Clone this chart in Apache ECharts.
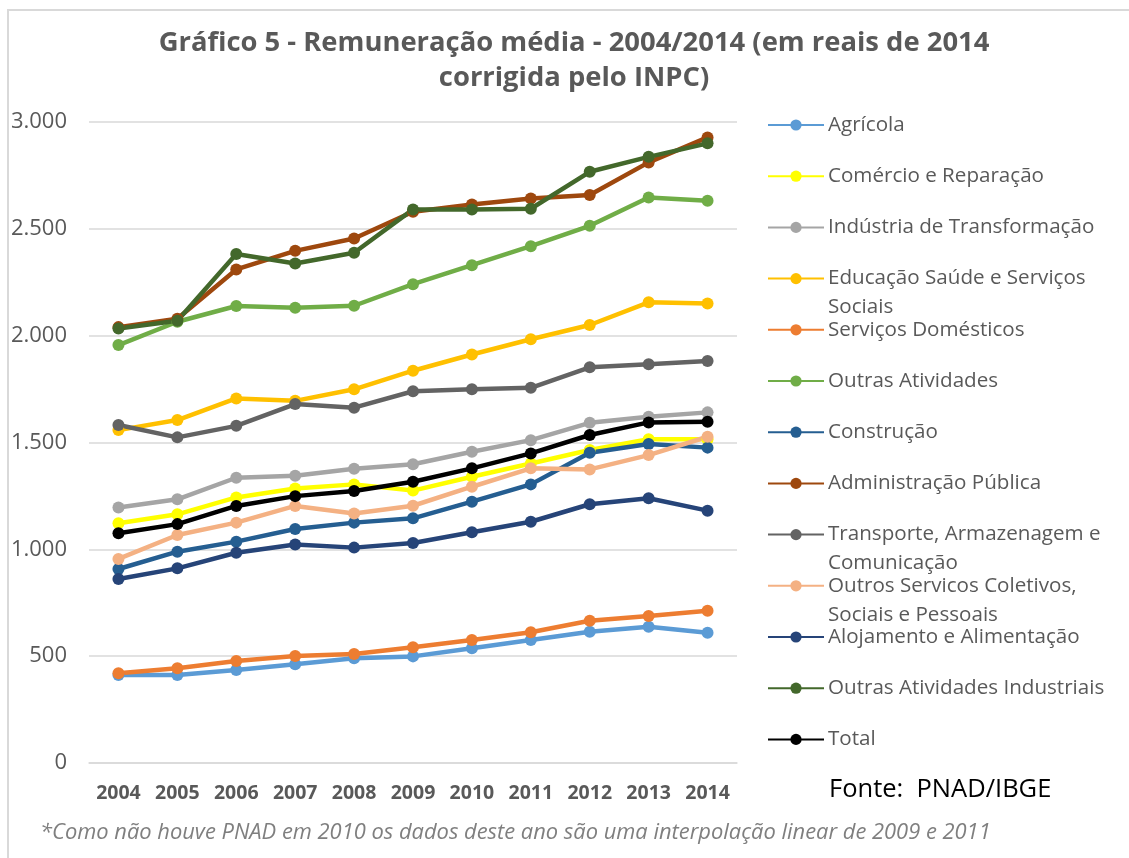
<!DOCTYPE html>
<html>
<head>
<meta charset="utf-8">
<script src="https://cdn.jsdelivr.net/npm/echarts@6/dist/echarts.min.js"></script>
<style>
html, body { margin: 0; padding: 0; background: #fff; }
#chart { width: 1129px; height: 858px; }
</style>
</head>
<body>
<div id="chart"></div>
<script>
// anos
var years = ['2004', '2005', '2006', '2007', '2008', '2009', '2010', '2011', '2012', '2013', '2014'];
var yTicks = [0, 500, 1000, 1500, 2000, 2500, 3000];

// remuneração média por setor (R$ de 2014)
var agricola      = [412, 412, 435, 462, 490, 499, 537, 576, 614, 638, 610];
var comercio      = [1122, 1164, 1243, 1285, 1304, 1275, 1340, 1402, 1465, 1515, 1515];
var industria     = [1196, 1234, 1335, 1344, 1377, 1398, 1457, 1511, 1592, 1621, 1641];
var educacao      = [1558, 1605, 1706, 1695, 1749, 1836, 1912, 1983, 2050, 2156, 2151];
var domesticos    = [420, 443, 477, 501, 510, 542, 576, 612, 666, 688, 713];
var outrasAtiv    = [1956, 2065, 2139, 2131, 2140, 2241, 2330, 2419, 2514, 2647, 2631];
var construcao    = [908, 989, 1036, 1095, 1125, 1145, 1223, 1304, 1452, 1493, 1476];
var adminPublica  = [2040, 2079, 2310, 2397, 2455, 2580, 2614, 2642, 2658, 2811, 2928];
var transporte    = [1582, 1524, 1578, 1680, 1663, 1740, 1749, 1756, 1852, 1866, 1881];
var outrosServ    = [955, 1067, 1125, 1203, 1168, 1204, 1293, 1379, 1374, 1441, 1527];
var alojamento    = [861, 911, 984, 1023, 1008, 1030, 1080, 1129, 1211, 1239, 1181];
var outrasInd     = [2034, 2070, 2382, 2338, 2388, 2591, 2591, 2594, 2767, 2837, 2900];
var total         = [1075, 1118, 1203, 1249, 1273, 1316, 1379, 1449, 1535, 1594, 1597];

var seriesDefs = [
    ['Agrícola', agricola, '#5B9BD5'],
    ['Comércio e Reparação', comercio, '#FFFF00'],
    ['Indústria de Transformação', industria, '#A5A5A5'],
    ['Educação Saúde e Serviços Sociais', educacao, '#FFC000'],
    ['Serviços Domésticos', domesticos, '#ED7D31'],
    ['Outras Atividades', outrasAtiv, '#70AD47'],
    ['Construção', construcao, '#255E91'],
    ['Administração Pública', adminPublica, '#9E480E'],
    ['Transporte, Armazenagem e Comunicação', transporte, '#636363'],
    ['Outros Servicos Coletivos, Sociais e Pessoais', outrosServ, '#F4B183'],
    ['Alojamento e Alimentação', alojamento, '#264478'],
    ['Outras Atividades Industriais', outrasInd, '#43682B'],
    ['Total', total, '#000000']
];

var wrapped = {
    'Educação Saúde e Serviços Sociais': 'Educação Saúde e Serviços\nSociais',
    'Transporte, Armazenagem e Comunicação': 'Transporte, Armazenagem e\nComunicação',
    'Outros Servicos Coletivos, Sociais e Pessoais': 'Outros Servicos Coletivos,\nSociais e Pessoais'
};

var FONT = '"Open Sans", "Noto Sans", sans-serif';
var LH = 29;

var series = seriesDefs.map(function (d) {
    return {
        name: d[0],
        type: 'line',
        data: d[1],
        color: d[2],
        symbol: 'circle',
        symbolSize: 12,
        lineStyle: { width: 4.5, color: d[2] },
        itemStyle: { color: d[2] },
        emphasis: { disabled: true },
        animation: false
    };
});

var legends = seriesDefs.map(function (d, i) {
    var cy = 125 + i * 51.2;
    var isWrapped = !!wrapped[d[0]];
    return {
        data: [d[0]],
        left: 767,
        top: isWrapped ? cy - LH * 1.5 : cy - LH / 2,
        padding: 0,
        itemWidth: 56,
        itemHeight: 14,
        itemGap: 0,
        selectedMode: false,
        formatter: function (name) {
            return wrapped[name] ? '\n' + wrapped[name] : name;
        },
        textStyle: { fontFamily: FONT, fontSize: 20.6, color: '#595959', lineHeight: LH, padding: [0, 0, 0, -1] }
    };
});

var chart = echarts.init(document.getElementById('chart'));
chart.setOption({
    animation: false,
    backgroundColor: '#fff',
    title: {
        text: 'Gráfico 5 - Remuneração média - 2004/2014 (em reais de 2014\ncorrigida pelo INPC)',
        left: 569,
        top: 21,
        textAlign: 'center',
        textStyle: { fontFamily: FONT, fontWeight: 'bold', fontSize: 27.4, color: '#595959', lineHeight: 35 }
    },
    legend: legends,
    grid: { left: 89, right: 392, top: 122, bottom: 95, containLabel: false },
    xAxis: {
        type: 'category',
        data: years,
        boundaryGap: true,
        axisLine: { show: true, lineStyle: { color: '#D9D9D9', width: 1.5 } },
        axisTick: { show: false },
        axisLabel: {
            interval: 0, hideOverlap: false,
            fontFamily: FONT, fontSize: 19.5, fontWeight: 'bold', color: '#595959', margin: 20
        }
    },
    yAxis: {
        type: 'value',
        min: yTicks[0],
        max: yTicks[yTicks.length - 1],
        interval: 500,
        axisLine: { show: false },
        axisTick: { show: false },
        splitLine: { lineStyle: { color: '#D9D9D9', width: 1.5 } },
        axisLabel: {
            fontFamily: FONT, fontSize: 22, color: '#595959', margin: 22,
            formatter: function (v) { return v >= 1000 ? Math.floor(v / 1000) + '.' + ('00' + (v % 1000)).slice(-3) : String(v); }
        }
    },
    series: series,
    graphic: [
        {
            type: 'rect',
            shape: { x: 8, y: 10, width: 1140, height: 870 },
            style: { fill: 'none', stroke: '#D9D9D9', lineWidth: 2 },
            silent: true
        },
        {
            type: 'text',
            left: 829,
            top: 777,
            style: { text: 'Fonte:  PNAD/IBGE', fontFamily: FONT, fontSize: 25.5, fill: '#000' }
        },
        {
            type: 'text',
            left: 40,
            top: 822,
            style: {
                text: '*Como não houve PNAD em 2010 os dados deste ano são uma interpolação linear de 2009 e 2011',
                fontFamily: FONT, fontSize: 21.9, fontStyle: 'italic', fill: '#7F7F7F'
            }
        }
    ]
});
window.addEventListener('resize', function () { chart.resize(); });
</script>
</body>
</html>
